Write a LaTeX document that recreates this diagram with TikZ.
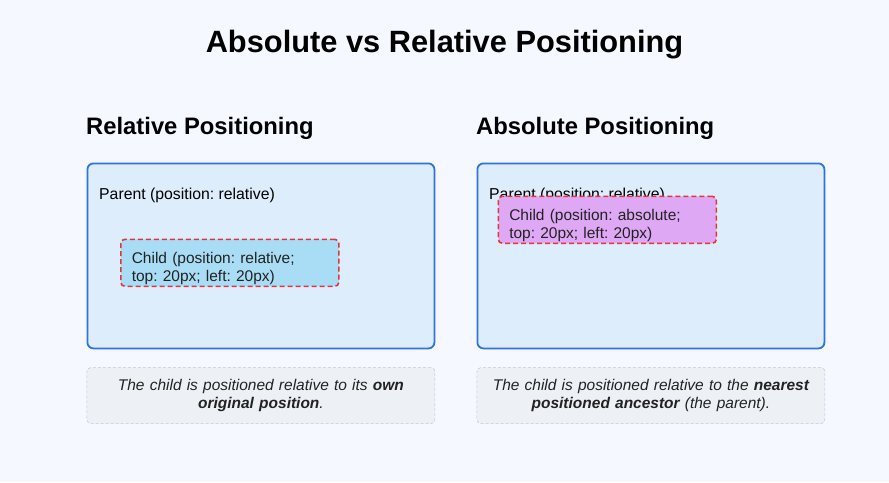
\documentclass[tikz,border=0pt]{standalone}
\usepackage{fontspec}
\setmainfont{Liberation Sans}
\usetikzlibrary{positioning}
\definecolor{bgCol}{HTML}{F5F8FE}
\definecolor{parentLine}{HTML}{2E74DA}
\definecolor{parentFill}{HTML}{DDEDFC}
\definecolor{relFill}{HTML}{A9DDF5}
\definecolor{absFill}{HTML}{DEA8F4}
\definecolor{childLine}{HTML}{E0363A}
\definecolor{noteFill}{HTML}{EDF0F5}
\definecolor{noteLine}{HTML}{C5C8CD}
\definecolor{txtCol}{HTML}{222222}
\frenchspacing
\newcommand{\lowStrut}{\rule{0pt}{23pt}}

\begin{document}
\begin{tikzpicture}[
    x=1pt, y=-1pt,
    title/.style={font=\fontsize{30.8}{34}\selectfont\bfseries, text=black},
    heading/.style={font=\fontsize{23.8}{27}\selectfont\bfseries, text=black, anchor=west, inner sep=0pt},
    pBox/.style={draw=parentLine, line width=1.8pt, fill=parentFill, rounded corners=6pt, minimum width=347pt, minimum height=185pt, anchor=north west},
    pText/.style={font=\fontsize{15.8}{18}\selectfont, text=black, anchor=west, inner sep=0pt},
    cBox/.style={draw=childLine, line width=1.6pt, dash pattern=on 5pt off 3pt, rounded corners=4pt, minimum height=47pt, text width=196pt, inner xsep=11pt, inner ysep=1pt, align=left, anchor=north west, font=\fontsize{15.5}{18}\selectfont, text=txtCol},
    nBox/.style={draw=noteLine, line width=0.6pt, dash pattern=on 3pt off 2pt, fill=noteFill, rounded corners=4pt, minimum height=56pt, text width=340pt, inner xsep=4pt, align=center, anchor=north, font=\fontsize{15.5}{17.5}\selectfont\itshape, text=txtCol}
]
    \fill[bgCol] (0,0) rectangle (889,482);

    \node[title] (T) at (444.5,45) {Absolute vs Relative Positioning};

    % relative side
    \node[heading] (HR) at (86,128) {Relative Positioning};
    \node[pBox] (PR) at (86.5,162.5) {};
    \node[pText] (PRt) at (99,195) {Parent (position: relative)};
    \node[cBox, fill=relFill, below right=76pt and 33.5pt of PR.north west] (CR) {\lowStrut Child (position: relative;\\top: 20px; left: 20px)};
    \node[nBox, below=18pt of PR] (NR) {The child is positioned relative to its \textbf{own}\\\textbf{original position}.};

    % absolute side
    \node[heading] (HA) at (476,128) {Absolute Positioning};
    \node[pBox] (PA) at (476.5,162.5) {};
    \node[pText] (PAt) at (489,195) {Parent (position: relative)};
    \node[cBox, fill=absFill, below right=33pt and 21pt of PA.north west] (CA) {\lowStrut Child (position: absolute;\\top: 20px; left: 20px)};
    \node[nBox, below=18pt of PA] (NA) {The child is positioned relative to the \textbf{nearest}\\\textbf{positioned ancestor} (the parent).};
\end{tikzpicture}
\end{document}
